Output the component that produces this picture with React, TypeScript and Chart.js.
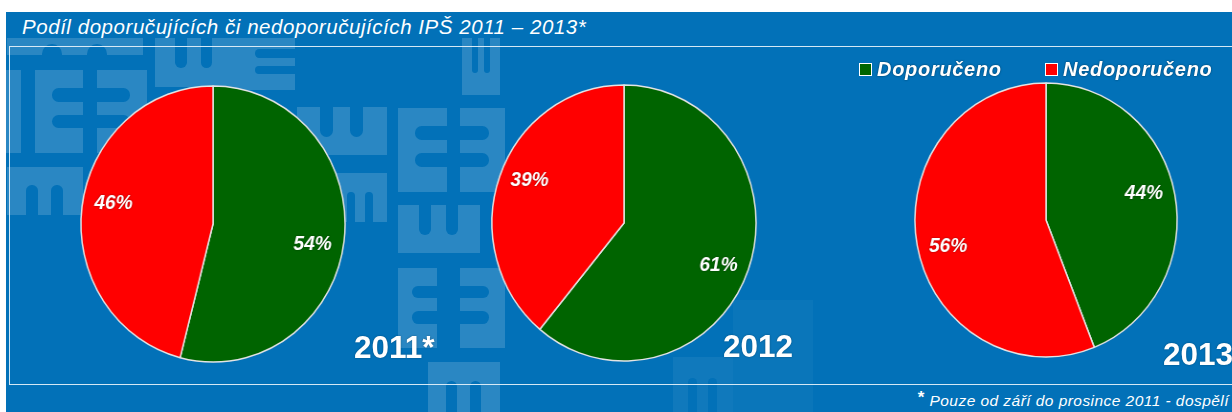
import React, { useEffect, useRef } from "react";
import { Chart, registerables } from "chart.js";

Chart.register(...registerables);

// ---------- data ----------
const YEARS = ["2011*", "2012", "2013"];
const CATEGORIES = ["Doporučeno", "Nedoporučeno"];
const DOPORUCENO = [54, 61, 44];
const NEDOPORUCENO = [46, 39, 56];
const TITLE = "Podíl doporučujících či nedoporučujících IPŠ 2011 – 2013*";
const FOOTNOTE = "Pouze od září do prosince 2011 - dospělí";

// ---------- style ----------
const SLICE_COLORS = ["#006400", "#ff0000"];
const BG = "#0271b8";
const FONT = '"Liberation Sans", Arial, Helvetica, sans-serif';

// pie layout: page centre x, centre y, radius
const PIE_LAYOUT = [
  { cx: 212.5, cy: 223.5, r: 138 },
  { cx: 623.5, cy: 223, r: 138 },
  { cx: 1045.5, cy: 220, r: 137 },
];
const YEAR_LABEL_POS = [
  { x: 354, base: 359 },
  { x: 723, base: 358 },
  { x: 1163, base: 366 },
];

// watermark tiles [x, y, w, h, kind, alpha]
const TILES: [number, number, number, number, string, number][] = [
  [6, 70, 15, 83, "", 0.16],
  [35, 70, 48, 83, "E", 0.16],
  [97, 70, 50, 83, "Er", 0.16],
  [7, 38, 136, 17, "m", 0.16],
  [155, 38, 78, 49, "w", 0.16],
  [233, 38, 62, 52, "E", 0.16],
  [7, 167, 76, 48, "m", 0.16],
  [297, 107, 90, 48, "w", 0.16],
  [333, 173, 54, 49, "m", 0.16],
  [398, 108, 49, 84, "E", 0.16],
  [460, 108, 45, 84, "Er", 0.16],
  [398, 205, 82, 48, "w", 0.16],
  [398, 268, 39, 80, "E", 0.16],
  [460, 268, 45, 80, "Er", 0.16],
  [428, 362, 72, 50, "m", 0.16],
  [462, 38, 38, 57, "w", 0.16],
  [673, 357, 60, 55, "m", 0.06],
  [733, 300, 80, 112, "", 0.035],
];

function Tile({ t }: { t: [number, number, number, number, string, number] }) {
  const [x, y, w, h, kind, a] = t;
  const slots: React.CSSProperties[] = [];
  if (kind === "E" || kind === "Er") {
    const th = Math.max(6, h * 0.16);
    [0.3, 0.62].forEach((f) => {
      slots.push({
        position: "absolute",
        top: h * f - th / 2,
        left: kind === "E" ? w * 0.35 : -th,
        width: w * 0.65 + th,
        height: th,
        borderRadius: th / 2,
        background: BG,
      });
    });
  } else if (kind === "w" || kind === "m") {
    const th = Math.max(6, w * 0.15);
    [0.33, 0.66].forEach((f) => {
      slots.push({
        position: "absolute",
        left: w * f - th / 2,
        top: kind === "w" ? -th : h * 0.38,
        width: th,
        height: h * 0.62 + th,
        borderRadius: th / 2,
        background: BG,
      });
    });
  }
  return (
    <div
      style={{
        position: "absolute",
        left: x,
        top: y,
        width: w,
        height: h,
        background: `rgba(255,255,255,${a})`,
        overflow: "hidden",
      }}
    >
      {slots.map((s, i) => (
        <div key={i} style={s} />
      ))}
    </div>
  );
}

function Txt({
  x,
  base,
  size,
  align = "left",
  style,
  children,
}: {
  x: number;
  base: number;
  size: number;
  align?: "left" | "right";
  style?: React.CSSProperties;
  children: React.ReactNode;
}) {
  const top = base - 0.8465 * size;
  return (
    <div
      style={{
        position: "absolute",
        top,
        left: align === "left" ? x : undefined,
        right: align === "right" ? 1232 - x : undefined,
        fontSize: size,
        lineHeight: `${size}px`,
        whiteSpace: "nowrap",
        color: "#fff",
        fontFamily: FONT,
        ...style,
      }}
    >
      {children}
    </div>
  );
}

const percentLabels = {
  id: "percentLabels",
  afterDatasetsDraw(chart: any) {
    const ctx = chart.ctx;
    const meta = chart.getDatasetMeta(0);
    const data = chart.data.datasets[0].data;
    ctx.save();
    ctx.font = `italic bold 20px ${FONT}`;
    ctx.fillStyle = "#ffffff";
    ctx.textAlign = "center";
    ctx.textBaseline = "middle";
    ctx.shadowColor = "rgba(0,0,0,0.45)";
    ctx.shadowBlur = 2;
    meta.data.forEach((arc: any, i: number) => {
      const p = arc.getProps(["x", "y", "startAngle", "endAngle", "outerRadius"], true);
      const mid = (p.startAngle + p.endAngle) / 2;
      const d = p.outerRadius * 0.76;
      const s = Math.sin(mid);
      ctx.fillText(`${data[i]}%`, p.x + Math.cos(mid) * d, p.y + s * d + Math.sign(s) * 7);
    });
    ctx.restore();
  },
};

const SIZE = 300;

function Pie({ index }: { index: number }) {
  const ref = useRef<HTMLCanvasElement | null>(null);
  useEffect(() => {
    if (!ref.current) return;
    const lay = PIE_LAYOUT[index];
    const chart = new Chart(ref.current, {
      type: "pie",
      data: {
        labels: CATEGORIES,
        datasets: [
          {
            data: [DOPORUCENO[index], NEDOPORUCENO[index]],
            backgroundColor: SLICE_COLORS,
            borderColor: "#e4e4e4",
            borderWidth: 1.5,
            radius: lay.r,
          } as any,
        ],
      },
      options: {
        responsive: false,
        animation: false,
        layout: { padding: 0 },
        plugins: {
          legend: { display: false },
          tooltip: { enabled: false },
          title: { display: false },
        },
      },
      plugins: [percentLabels],
    });
    return () => chart.destroy();
  }, [index]);
  const lay = PIE_LAYOUT[index];
  return (
    <canvas
      ref={ref}
      width={SIZE}
      height={SIZE}
      style={{
        position: "absolute",
        left: lay.cx - SIZE / 2,
        top: lay.cy - SIZE / 2,
        width: SIZE,
        height: SIZE,
        transform: "scaleX(0.957)",
        transformOrigin: "50% 50%",
      }}
    />
  );
}

export default function App() {
  useEffect(() => {
    document.body.style.margin = "0";
  }, []);
  const legendText: React.CSSProperties = {
    fontWeight: "bold",
    fontStyle: "italic",
    letterSpacing: "0.7px",
    textShadow: "0 0 2px rgba(0,0,0,0.55)",
  };
  return (
    <div
      style={{
        position: "relative",
        width: 1232,
        height: 412,
        background: "#fff",
        overflow: "hidden",
        fontFamily: FONT,
      }}
    >
      <div style={{ position: "absolute", left: 6, top: 12, width: 1226, height: 400, background: BG }} />
      {TILES.map((t, i) => (
        <Tile key={i} t={t} />
      ))}
      <div
        style={{
          position: "absolute",
          left: 9,
          top: 46,
          width: 1260,
          height: 339,
          border: "1px solid rgba(235,245,252,0.9)",
          boxSizing: "border-box",
        }}
      />
      <Txt x={22} base={34} size={20.5} style={{ fontStyle: "italic", letterSpacing: "0.55px" }}>
        {TITLE}
      </Txt>

      {YEARS.map((_, i) => (
        <Pie key={i} index={i} />
      ))}

      {YEARS.map((y, i) => (
        <Txt
          key={y}
          x={YEAR_LABEL_POS[i].x}
          base={YEAR_LABEL_POS[i].base}
          size={31.5}
          style={{ fontWeight: "bold", textShadow: "0 0 2px rgba(0,0,0,0.35)" }}
        >
          {y}
        </Txt>
      ))}

      {/* legend */}
      <div
        style={{
          position: "absolute",
          left: 859,
          top: 63,
          width: 11,
          height: 11,
          border: "1px solid #fff",
          background: SLICE_COLORS[0],
        }}
      />
      <Txt x={877} base={76} size={20} style={legendText}>
        {CATEGORIES[0]}
      </Txt>
      <div
        style={{
          position: "absolute",
          left: 1045,
          top: 63,
          width: 11,
          height: 11,
          border: "1px solid #fff",
          background: SLICE_COLORS[1],
        }}
      />
      <Txt x={1063} base={76} size={20} style={legendText}>
        {CATEGORIES[1]}
      </Txt>

      <Txt x={1229} base={406} size={15.5} align="right" style={{ fontStyle: "italic", letterSpacing: "0.45px" }}>
        <span style={{ fontWeight: "bold", fontStyle: "normal", fontSize: 17, position: "relative", top: -3 }}>*</span>{" "}
        {FOOTNOTE}
      </Txt>
    </div>
  );
}
